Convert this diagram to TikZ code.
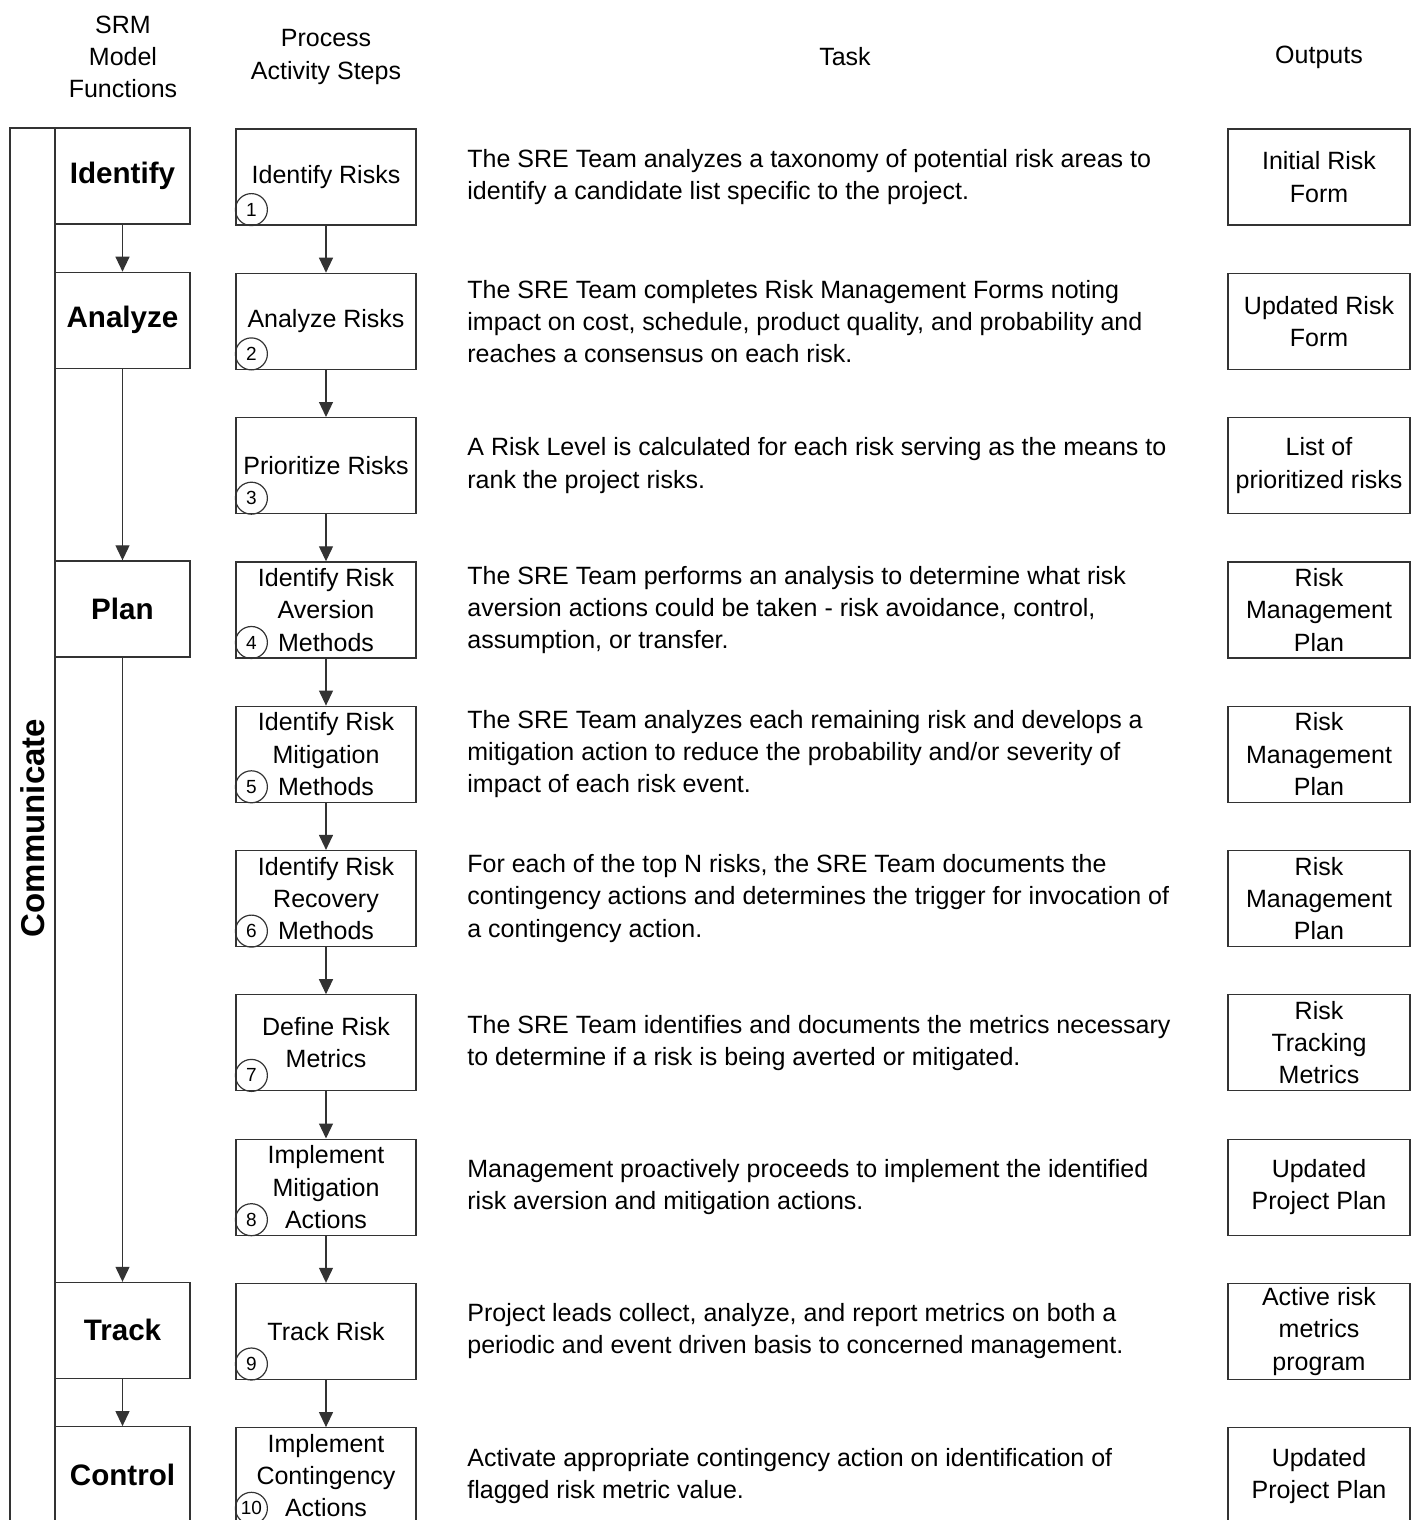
\documentclass[tikz,border=0pt]{standalone}
\usepackage{fontspec}
\setmainfont{Liberation Sans}
\usepackage{tikz}
\usetikzlibrary{arrows.meta, positioning}

\tikzset{
  txt/.style={font=\fontsize{12.5}{16.1}\selectfont},
  fbox/.style={draw=black!80, line width=0.6pt, minimum width=67.5pt, minimum height=48pt,
    inner sep=0pt, font=\fontsize{14.8}{18}\selectfont\bfseries},
  pbox/.style={draw=black!80, line width=0.6pt, minimum width=90pt, minimum height=48pt,
    inner sep=0pt, align=center, txt},
  obox/.style={draw=black!80, line width=0.6pt, minimum width=91pt, minimum height=48pt,
    inner sep=0pt, align=center, txt},
  task/.style={anchor=west, align=left, inner sep=0pt, txt},
  hdr/.style={align=center, inner sep=0pt, txt},
  num/.style={draw=black!80, line width=0.6pt, circle, minimum size=16pt, inner sep=0pt,
    xshift=8pt, yshift=8pt, font=\fontsize{9.5}{10}\selectfont},
  flow/.style={draw=black!80, line width=0.6pt, -{Triangle[length=7.5pt,width=7pt]}}
}

\begin{document}
\begin{tikzpicture}[x=0.5pt, y=-0.5pt]
  \path[use as bounding box] (0,0) rectangle (1413,1520);
  \clip (0,0) rectangle (1413,1520);

  % headers
  \node[hdr] (hsrm) at (123,57) {SRM\\Model\\Functions};
  \node[hdr] (hproc) at (326,57) {Process\\Activity Steps};
  \node[hdr] (htask) at (845,57) {Task};
  \node[hdr] (hout) at (1319,57) {Outputs};

  % communicate bar
  \node[draw=black!80, line width=0.6pt, rotate=90, minimum width=700pt, minimum height=22.5pt,
    inner sep=0pt, font=\fontsize{16.5}{18}\selectfont\bfseries] (comm) at (32.5,828) {Communicate};

  % SRM functions
  \node[fbox] (fid) at (122.5,176) {Identify};
  \node[fbox] (fan) at (122.5,320.3) {Analyze};
  \node[fbox] (fpl) at (122.5,608.9) {Plan};
  \node[fbox] (ftr) at (122.5,1330.4) {Track};
  \node[fbox] (fco) at (122.5,1474.7) {Control};

  \draw[flow] (fid) -- (fan);
  \draw[flow] (fan) -- (fpl);
  \draw[flow] (fpl) -- (ftr);
  \draw[flow] (ftr) -- (fco);

  % process steps
  \node[pbox] (p1) at (326,177) {Identify Risks};
  \node[pbox] (p2) at (326,321.3) {Analyze Risks};
  \node[pbox] (p3) at (326,465.6) {Prioritize Risks};
  \node[pbox] (p4) at (326,609.9) {Identify Risk\\Aversion\\Methods};
  \node[pbox] (p5) at (326,754.2) {Identify Risk\\Mitigation\\Methods};
  \node[pbox] (p6) at (326,898.5) {Identify Risk\\Recovery\\Methods};
  \node[pbox] (p7) at (326,1042.8) {Define Risk\\Metrics};
  \node[pbox] (p8) at (326,1187.1) {Implement\\Mitigation\\Actions};
  \node[pbox] (p9) at (326,1331.4) {Track Risk};
  \node[pbox] (p10) at (326,1475.7) {Implement\\Contingency\\Actions};

  \foreach \i in {1,...,10} {
    \node[num] (n\i) at (p\i.south west) {\i};
  }
  \foreach \i [evaluate=\i as \j using int(\i+1)] in {1,...,9} {
    \draw[flow] (p\i) -- (p\j);
  }

  % tasks
  \node[task] (t1) at (467,177) {The SRE Team analyzes a taxonomy of potential risk areas to\\identify a candidate list specific to the project.};
  \node[task] (t2) at (467,321.3) {The SRE Team completes Risk Management Forms noting\\impact on cost, schedule, product quality, and probability and\\reaches a consensus on each risk.};
  \node[task] (t3) at (467,465.6) {A Risk Level is calculated for each risk serving as the means to\\rank the project risks.};
  \node[task] (t4) at (467,609.9) {The SRE Team performs an analysis to determine what risk\\aversion actions could be taken - risk avoidance, control,\\assumption, or transfer.};
  \node[task] (t5) at (467,754.2) {The SRE Team analyzes each remaining risk and develops a\\mitigation action to reduce the probability and/or severity of\\impact of each risk event.};
  \node[task] (t6) at (467,898.5) {For each of the top N risks, the SRE Team documents the\\contingency actions and determines the trigger for invocation of\\a contingency action.};
  \node[task] (t7) at (467,1042.8) {The SRE Team identifies and documents the metrics necessary\\to determine if a risk is being averted or mitigated.};
  \node[task] (t8) at (467,1187.1) {Management proactively proceeds to implement the identified\\risk aversion and mitigation actions.};
  \node[task] (t9) at (467,1331.4) {Project leads collect, analyze, and report metrics on both a\\periodic and event driven basis to concerned management.};
  \node[task] (t10) at (467,1475.7) {Activate appropriate contingency action on identification of\\flagged risk metric value.};

  % outputs
  \node[obox] (o1) at (1319,177) {Initial Risk\\Form};
  \node[obox] (o2) at (1319,321.3) {Updated Risk\\Form};
  \node[obox] (o3) at (1319,465.6) {List of\\prioritized risks};
  \node[obox] (o4) at (1319,609.9) {Risk\\Management\\Plan};
  \node[obox] (o5) at (1319,754.2) {Risk\\Management\\Plan};
  \node[obox] (o6) at (1319,898.5) {Risk\\Management\\Plan};
  \node[obox] (o7) at (1319,1042.8) {Risk\\Tracking\\Metrics};
  \node[obox] (o8) at (1319,1187.1) {Updated\\Project Plan};
  \node[obox] (o9) at (1319,1331.4) {Active risk\\metrics\\program};
  \node[obox] (o10) at (1319,1475.7) {Updated\\Project Plan};
\end{tikzpicture}
\end{document}
